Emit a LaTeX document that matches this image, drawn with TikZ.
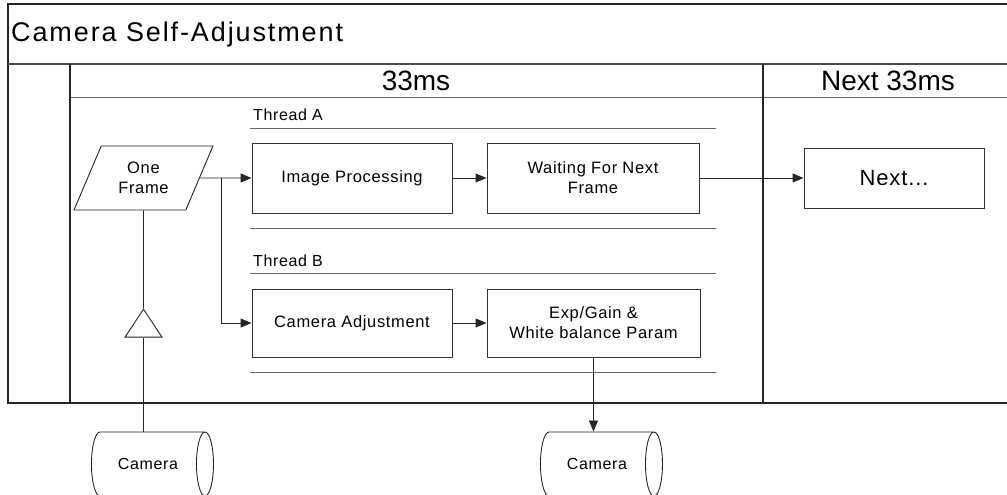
\documentclass[tikz,border=0pt]{standalone}
\usepackage{fontspec}
\setmainfont{Liberation Sans}[LetterSpace=4]
\usetikzlibrary{arrows.meta,shapes.geometric,calc}

\tikzset{
  frameline/.style={draw=black!85, line width=1.2pt},
  thinline/.style={draw=black!60, line width=0.9pt},
  procbox/.style={draw=black!80, line width=0.9pt, minimum width=200, minimum height=70, inner sep=0, align=center, font=\fontsize{16.5}{20}\selectfont},
  arr/.style={draw=black!85, line width=0.9pt, -{Triangle[length=11pt,width=9pt]}},
  camera/.style={cylinder, draw=black!85, line width=0.9pt, aspect=1.5, minimum width=64, minimum height=122, inner sep=0, font=\fontsize{16}{18}\selectfont},
}

\begin{document}
\begin{tikzpicture}[x=1pt, y=-1pt]
            %\draw[lightgray] (0, 0) grid (1007, 495);
            \useasboundingbox (0, 0) rectangle (1007, 495);
            \draw[frameline] (1007, 4) -- (8, 4) -- (8, 403) -- (1007, 403);
            \draw[draw=black!70, line width=2.4pt] (8, 64) -- (1007, 64);
            \draw[thinline] (70, 97) -- (1007, 97);
            \draw[frameline] (70, 64) -- (70, 403);
            \draw[frameline] (763, 64) -- (763, 403);
            \node[anchor=west, inner sep=0, font=\fontsize{27}{30}\selectfont\addfontfeature{LetterSpace=7}] (title) at (11, 35) {Camera Self-Adjustment};
            \node[font=\fontsize{28}{30}\selectfont\addfontfeature{LetterSpace=0}] (now) at (416, 81) {33ms};
            \node[font=\fontsize{28}{30}\selectfont\addfontfeature{LetterSpace=0}] (later) at (888, 81) {Next 33ms};

            \node[anchor=base west, inner sep=0, font=\fontsize{16}{18}\selectfont] (threadA) at (253, 121) {Thread A};
            \node[anchor=base west, inner sep=0, font=\fontsize{16}{18}\selectfont] (threadB) at (253, 266) {Thread B};
            \draw[thinline] (250, 128) -- (716, 128);
            \draw[thinline] (250, 228) -- (716, 228);
            \draw[thinline] (250, 273) -- (716, 273);
            \draw[thinline] (250, 372) -- (716, 372);

            \node[trapezium, trapezium left angle=63, trapezium right angle=117, trapezium stretches=true, draw=black!85, line width=0.9pt, minimum width=139, minimum height=64, inner sep=0, align=center, font=\fontsize{16.5}{20}\selectfont] (frame) at (143.5, 178) {One\\Frame};
            \node[procbox] (imgproc) at (352, 178) {Image Processing};
            \node[procbox, minimum width=212] (waiting) at (593, 178) {Waiting For Next\\Frame};
            \node[procbox, minimum height=68] (camadj) at (352, 323) {Camera Adjustment};
            \node[procbox, minimum width=213, minimum height=68] (param) at (593.5, 323) {Exp/Gain \&\\White balance Param};
            \node[procbox, minimum width=180, minimum height=60, font=\fontsize{22}{24}\selectfont] (next) at (894, 178) {Next...};
            \node[isosceles triangle, isosceles triangle stretches=true, shape border rotate=90, draw=black!85, line width=0.9pt, minimum width=37, minimum height=28, inner sep=0, anchor=apex] (merge) at (143.5, 308) {};
            \node[camera] (camin) at (148, 464) {Camera};
            \node[camera] (camout) at (597, 464) {Camera};

            \coordinate (split) at (221, 178);
            \draw[arr] (frame.east) -- (imgproc.west);
            \draw[arr] (split) |- (camadj.west);
            \draw[arr] (imgproc.east) -- (waiting.west);
            \draw[arr] (camadj.east) -- (param.west);
            \draw[arr] (waiting.east) -- (next.west);
            \draw[arr] (param.south) -- (param.south |- camout.north);
            \draw[draw=black!85, line width=0.9pt] (frame.south) -- (merge.apex);
            \draw[draw=black!85, line width=0.9pt] (merge.lower side) -- (merge.lower side |- camin.north);
        \end{tikzpicture}
\end{document}
